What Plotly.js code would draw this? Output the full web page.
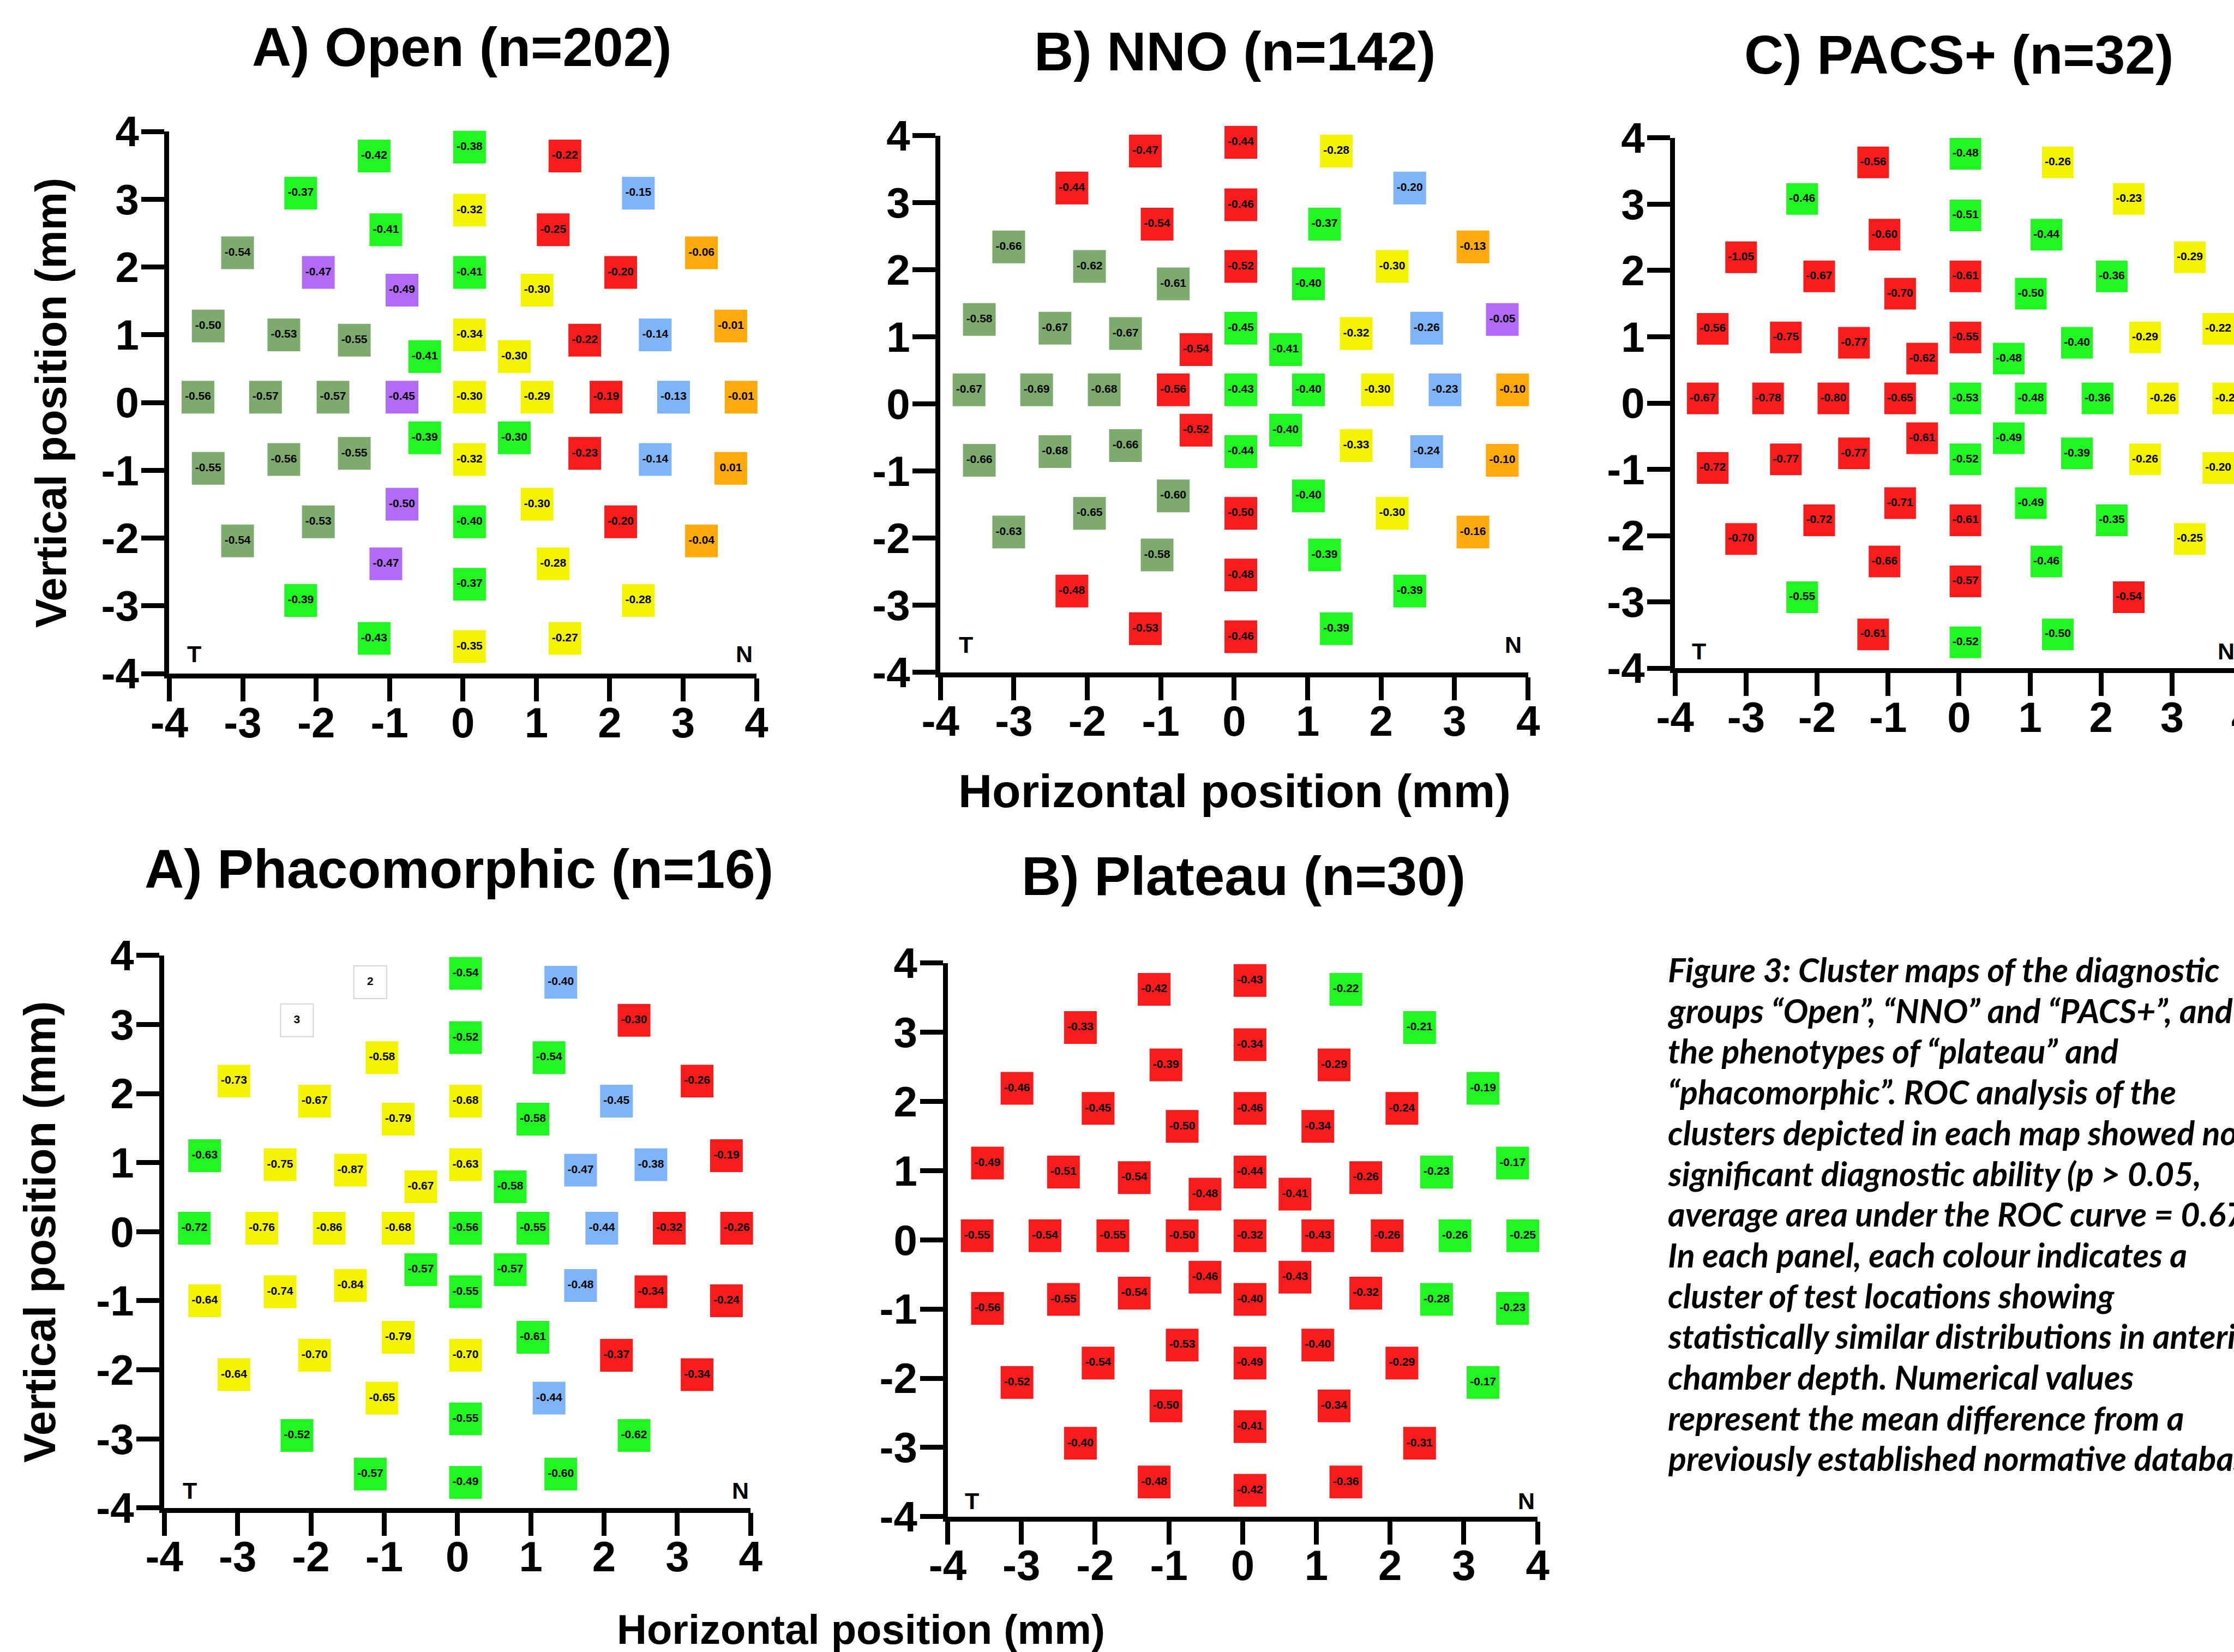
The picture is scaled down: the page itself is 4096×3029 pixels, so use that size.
<!DOCTYPE html>
<html>
<head>
<meta charset="utf-8">
<script src="https://cdn.plot.ly/plotly-3.0.1.min.js"></script>
<style>
html,body{margin:0;padding:0;background:#fff;overflow:hidden;}
#plot{width:4400px;height:3029px;}
</style>
</head>
<body>
<div id="plot"></div>
<script>
// ---------- test-location layout (mm, relative to the map centre) ----------
const posX = [-1.30,0,1.30,-2.30,0,2.30,-1.14,1.14,-3.16,3.16,-2.06,0,2.06,-0.92,0.92,-3.56,3.56,-2.53,2.53,-1.57,1.57,0,-0.61,0.61,
  -3.70,-2.78,-1.86,-0.92,0,0.92,1.86,2.78,3.70,
  -0.61,0.61,-3.56,3.56,-2.53,2.53,-1.57,1.57,0,-0.92,0.92,-2.06,0,2.06,-3.16,3.16,-1.14,1.14,0,-2.30,2.30,-1.30,0,1.30];
const posY = [3.56,3.69,3.56,3.01,2.76,3.01,2.47,2.47,2.13,2.13,1.84,1.84,1.84,1.58,1.58,1.05,1.05,0.92,0.92,0.84,0.84,0.92,0.60,0.60,
  0,0,0,0,0,0,0,0,0,
  -0.60,-0.60,-1.05,-1.05,-0.92,-0.92,-0.83,-0.83,-0.92,-1.58,-1.58,-1.84,-1.84,-1.84,-2.12,-2.12,-2.46,-2.46,-2.76,-3.00,-3.00,-3.56,-3.68,-3.56];

// ---------- values per panel ----------
const openValues = [-0.42,-0.38,-0.22,-0.37,-0.32,-0.15,-0.41,-0.25,-0.54,-0.06,-0.47,-0.41,-0.20,-0.49,-0.30,-0.50,-0.01,-0.53,-0.14,-0.55,-0.22,-0.34,-0.41,-0.30,
  -0.56,-0.57,-0.57,-0.45,-0.30,-0.29,-0.19,-0.13,-0.01,
  -0.39,-0.30,-0.55,0.01,-0.56,-0.14,-0.55,-0.23,-0.32,-0.50,-0.30,-0.53,-0.40,-0.20,-0.54,-0.04,-0.47,-0.28,-0.37,-0.39,-0.28,-0.43,-0.35,-0.27];
const openClusters = "GGRGYBGRSOPGRPYSOSBSRYGYSSSPYYRBOGGSOSBSRYPYSGRSOPYGGYGYY".split("");

const nnoValues = [-0.47,-0.44,-0.28,-0.44,-0.46,-0.20,-0.54,-0.37,-0.66,-0.13,-0.62,-0.52,-0.30,-0.61,-0.40,-0.58,-0.05,-0.67,-0.26,-0.67,-0.32,-0.45,-0.54,-0.41,
  -0.67,-0.69,-0.68,-0.56,-0.43,-0.40,-0.30,-0.23,-0.10,
  -0.52,-0.40,-0.66,-0.10,-0.68,-0.24,-0.66,-0.33,-0.44,-0.60,-0.40,-0.65,-0.50,-0.30,-0.63,-0.16,-0.58,-0.39,-0.48,-0.48,-0.39,-0.53,-0.46,-0.39];
const nnoClusters = "RRYRRBRGSOSRYSGSPSBSYGRGSSSRGGYBORGSOSBSYGSGSRYSOSGRRGRRG".split("");

const pacsValues = [-0.56,-0.48,-0.26,-0.46,-0.51,-0.23,-0.60,-0.44,-1.05,-0.29,-0.67,-0.61,-0.36,-0.70,-0.50,-0.56,-0.22,-0.75,-0.29,-0.77,-0.40,-0.55,-0.62,-0.48,
  -0.67,-0.78,-0.80,-0.65,-0.53,-0.48,-0.36,-0.26,-0.22,
  -0.61,-0.49,-0.72,-0.20,-0.77,-0.26,-0.77,-0.39,-0.52,-0.71,-0.49,-0.72,-0.61,-0.35,-0.70,-0.25,-0.66,-0.46,-0.57,-0.55,-0.54,-0.61,-0.52,-0.50];
const pacsClusters = "RGYGGYRGRYRRGRGRYRYRGRRGRRRRGGGYYRGRYRYRGGRGRRGRYRGRGRRGG".split("");

const phacoValues = [2,-0.54,-0.40,3,-0.52,-0.30,-0.58,-0.54,-0.73,-0.26,-0.67,-0.68,-0.45,-0.79,-0.58,-0.63,-0.19,-0.75,-0.38,-0.87,-0.47,-0.63,-0.67,-0.58,
  -0.72,-0.76,-0.86,-0.68,-0.56,-0.55,-0.44,-0.32,-0.26,
  -0.57,-0.57,-0.64,-0.24,-0.74,-0.34,-0.84,-0.48,-0.55,-0.79,-0.61,-0.70,-0.70,-0.37,-0.64,-0.34,-0.65,-0.44,-0.55,-0.52,-0.62,-0.57,-0.49,-0.60];
const phacoClusters = "WGBWGRYGYRYYBYGGRYBYBYYGGYYYGGBRRGGYRYRYBGYGYYRYRYBGGGGGG".split("");

const plateauValues = [-0.42,-0.43,-0.22,-0.33,-0.34,-0.21,-0.39,-0.29,-0.46,-0.19,-0.45,-0.46,-0.24,-0.50,-0.34,-0.49,-0.17,-0.51,-0.23,-0.54,-0.26,-0.44,-0.48,-0.41,
  -0.55,-0.54,-0.55,-0.50,-0.32,-0.43,-0.26,-0.26,-0.25,
  -0.46,-0.43,-0.56,-0.23,-0.55,-0.28,-0.54,-0.32,-0.40,-0.53,-0.40,-0.54,-0.49,-0.29,-0.52,-0.17,-0.50,-0.34,-0.41,-0.40,-0.31,-0.48,-0.42,-0.36];
const plateauClusters = "RRGRRGRRRGRRRRRRGRGRRRRRRRRRRRRGGRRRGRGRRRRRRRRRGRRRRRRRR".split("");

const tickValues = [-4,-3,-2,-1,0,1,2,3,4];
const tickLabels = ["-4","-3","-2","-1","0","1","2","3","4"];

const captionLines = [
  "Figure 3: Cluster maps of the diagnostic",
  "groups \u201cOpen\u201d, \u201cNNO\u201d and \u201cPACS+\u201d, and",
  "the phenotypes of \u201cplateau\u201d and",
  "\u201cphacomorphic\u201d. ROC analysis of the",
  "clusters depicted in each map showed no",
  "significant diagnostic ability (p > 0.05,",
  "average area under the ROC curve = 0.67).",
  "In each panel, each colour indicates a",
  "cluster of test locations showing",
  "statistically similar distributions in anterior",
  "chamber depth. Numerical values",
  "represent the mean difference from a",
  "previously established normative database."
];

// ---------- styling ----------
const clusterColors = {G:"#22F622",R:"#F81C1C",Y:"#F4F400",B:"#7DB5F8",O:"#FFAA0C",S:"#7DAA6D",P:"#B36AF7",W:"#FFFFFF"};
const S = 4096/4908, W = 4400, H = 3029;
const fx = p => p*S/W;
const fy = p => 1 - p*S/H;
const BOLD = "Liberation Sans, Arial, sans-serif";

const panels = [
  {title:"A) Open (n=202)", values:openValues, clusters:openClusters, tx:1015, ty:103, x0:372, x1:1662, y0:289, y1:1480, cx:0.09, cy:0.08, ms:60, T:[-3.66,-3.71], N:[3.83,-3.71]},
  {title:"B) NNO (n=142)", values:nnoValues, clusters:nnoClusters, tx:2713, ty:113, x0:2066, x1:3357, y0:298, y1:1477, cx:0.09, cy:0.21, ms:60, T:[-3.65,-3.59], N:[3.80,-3.59]},
  {title:"C) PACS+ (n=32)", values:pacsValues, clusters:pacsClusters, tx:4303, ty:120, x0:3680, x1:4928, y0:303, y1:1468, cx:0.09, cy:0.07, ms:58, T:[-3.66,-3.74], N:[3.76,-3.74]},
  {title:"A) Phacomorphic (n=16)", values:phacoValues, clusters:phacoClusters, tx:1008, ty:1909, x0:361, x1:1649, y0:2099, y1:3313, cx:0.11, cy:0.05, ms:60, T:[-3.65,-3.75], N:[3.86,-3.75]},
  {title:"B) Plateau (n=30)", values:plateauValues, clusters:plateauClusters, tx:2732, ty:1924, x0:2082, x1:3378, y0:2116, y1:3332, cx:0.10, cy:0.06, ms:60, T:[-3.67,-3.77], N:[3.85,-3.77]}
];

const axBase = {
  range:[-4,4], tickmode:"array", tickvals:tickValues, ticktext:tickLabels,
  showgrid:false, zeroline:false, showline:true, linewidth:9, linecolor:"#000",
  ticks:"outside", ticklen:42, tickwidth:9, tickcolor:"#000",
  tickfont:{family:BOLD, size:78, color:"#000", weight:"bold"},
  ticklabelstandoff:-28, fixedrange:true
};

const traces = [];
const annotations = [];
const layout = {
  width:W, height:H, autosize:false, showlegend:false,
  margin:{l:0,r:0,t:0,b:0,pad:0},
  paper_bgcolor:"#fff", plot_bgcolor:"rgba(0,0,0,0)",
  annotations:annotations
};

panels.forEach((p,i) => {
  const n = i===0 ? "" : String(i+1);
  layout["xaxis"+n] = Object.assign({}, axBase, {domain:[fx(p.x0), fx(p.x1)], anchor:"y"+n});
  layout["yaxis"+n] = Object.assign({}, axBase, {domain:[fy(p.y1), fy(p.y0)], anchor:"x"+n,
     ticklabelstandoff:-11});
  traces.push({
    type:"scatter", mode:"markers+text", xaxis:"x"+n, yaxis:"y"+n,
    x: posX.map(v => v + p.cx), y: posY.map(v => v + p.cy),
    text: p.values.map((v,k) => p.clusters[k]==="W" ? String(v) : v.toFixed(2)),
    textposition:"middle center",
    textfont:{family:BOLD, size:21, color:"#000", weight:"bold"},
    marker:{symbol:"square", size:p.ms,
      color:p.clusters.map(c => clusterColors[c]),
      line:{color:p.clusters.map(c => c==="W" ? "#d6d6d6" : "rgba(0,0,0,0)"),
            width:p.clusters.map(c => c==="W" ? 2 : 0)}},
    cliponaxis:false, hoverinfo:"skip"
  });
  annotations.push({xref:"paper", yref:"paper", x:fx(p.tx), y:fy(p.ty), xanchor:"center", yanchor:"middle",
    text:p.title, showarrow:false, font:{family:BOLD, size:100, color:"#000", weight:"bold"}});
  annotations.push({xref:"x"+n, yref:"y"+n, x:p.T[0], y:p.T[1], text:"T", showarrow:false,
    xanchor:"center", yanchor:"middle", font:{family:BOLD, size:43, color:"#000", weight:"bold"}});
  annotations.push({xref:"x"+n, yref:"y"+n, x:p.N[0], y:p.N[1], text:"N", showarrow:false,
    xanchor:"center", yanchor:"middle", font:{family:BOLD, size:43, color:"#000", weight:"bold"}});
});

// axis titles
annotations.push({xref:"paper", yref:"paper", x:fx(112), y:fy(885), text:"Vertical position (mm)", textangle:-90,
  showarrow:false, xanchor:"center", yanchor:"middle", font:{family:BOLD, size:79, color:"#000", weight:"bold"}});
annotations.push({xref:"paper", yref:"paper", x:fx(88), y:fy(2706), text:"Vertical position (mm)", textangle:-90,
  showarrow:false, xanchor:"center", yanchor:"middle", font:{family:BOLD, size:81, color:"#000", weight:"bold"}});
annotations.push({xref:"paper", yref:"paper", x:fx(2712), y:fy(1738), text:"Horizontal position (mm)",
  showarrow:false, xanchor:"center", yanchor:"middle", font:{family:BOLD, size:86, color:"#000", weight:"bold"}});
annotations.push({xref:"paper", yref:"paper", x:fx(1891), y:fy(3580), text:"Horizontal position (mm)",
  showarrow:false, xanchor:"center", yanchor:"middle", font:{family:BOLD, size:76, color:"#000", weight:"bold"}});

// caption
captionLines.forEach((line,k) => {
  annotations.push({xref:"paper", yref:"paper", x:fx(3662), y:fy(2130 + k*89.5), text:line,
    showarrow:false, xanchor:"left", yanchor:"middle", align:"left",
    font:{family:"Lato, Open Sans, sans-serif", size:61, color:"#000", weight:"bold", style:"italic"}});
});

Plotly.newPlot("plot", traces, layout, {displayModeBar:false, staticPlot:true});
</script>
</body>
</html>
